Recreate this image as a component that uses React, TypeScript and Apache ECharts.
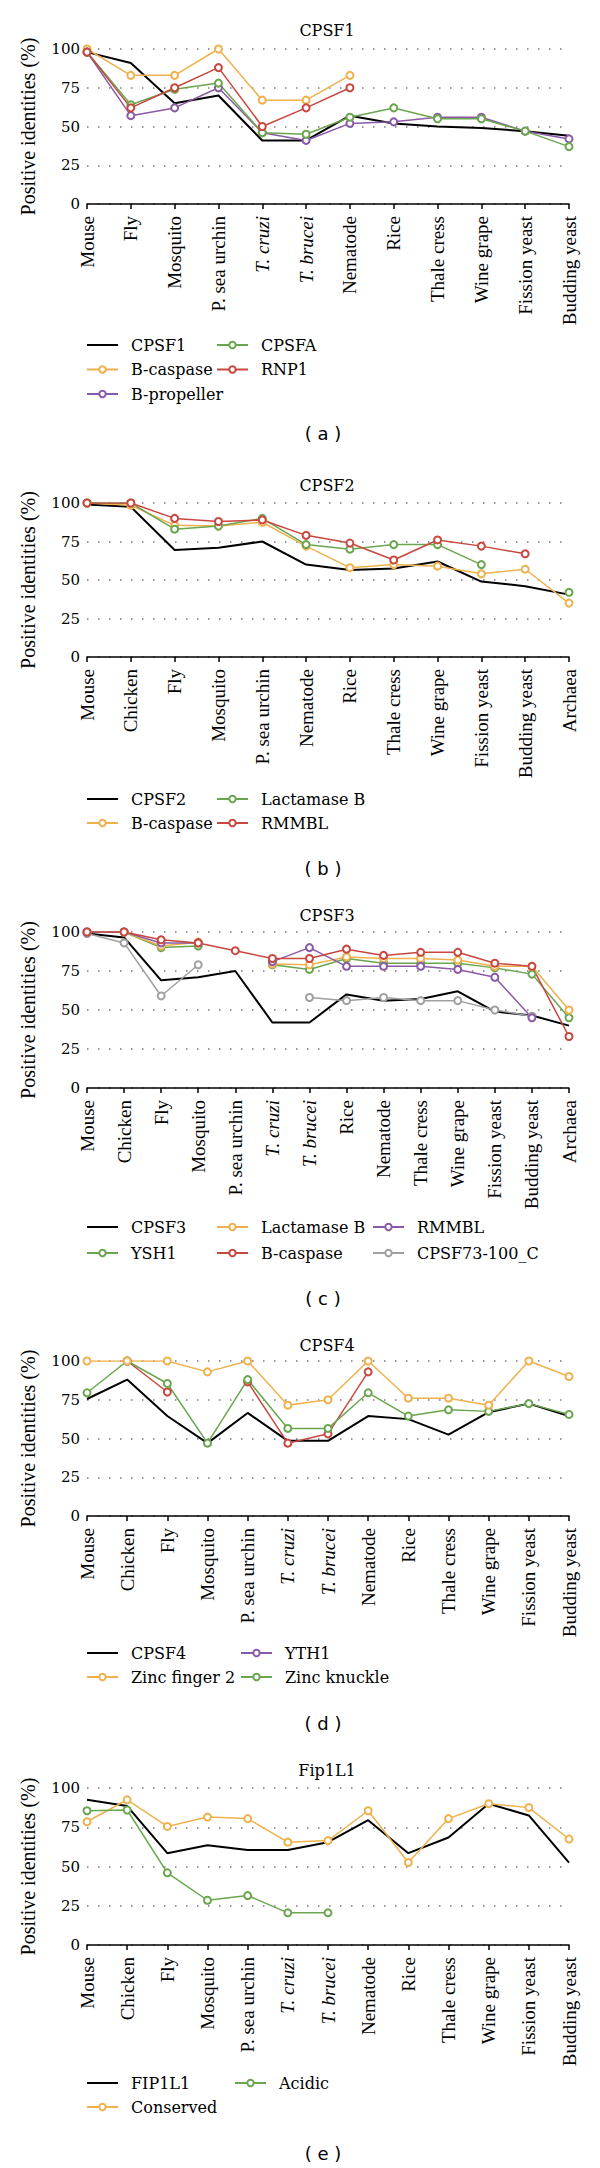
import React, { useEffect, useRef } from "react";
import * as echarts from "echarts";

const ROT_FONT = "Liberation Serif, Times New Roman, serif";
const HOR_FONT = "DejaVu Serif, serif";
const BLACK = "#000000";
const ORANGE = "#EFB14E";
const GREEN = "#6AA64E";
const RED = "#C8473F";
const PURPLE = "#8A5AA6";
const GRAY = "#A0A0A0";

// categories
const catsA = ["Mouse", "Fly", "Mosquito", "P. sea urchin", "T. cruzi", "T. brucei", "Nematode", "Rice", "Thale cress", "Wine grape", "Fission yeast", "Budding yeast"];
const catsB = ["Mouse", "Chicken", "Fly", "Mosquito", "P. sea urchin", "Nematode", "Rice", "Thale cress", "Wine grape", "Fission yeast", "Budding yeast", "Archaea"];
const catsC = ["Mouse", "Chicken", "Fly", "Mosquito", "P. sea urchin", "T. cruzi", "T. brucei", "Rice", "Nematode", "Thale cress", "Wine grape", "Fission yeast", "Budding yeast", "Archaea"];
const catsDE = ["Mouse", "Chicken", "Fly", "Mosquito", "P. sea urchin", "T. cruzi", "T. brucei", "Nematode", "Rice", "Thale cress", "Wine grape", "Fission yeast", "Budding yeast"];

const yTicks = [0, 25, 50, 75, 100];

// (a) CPSF1
const aCpsf1 = [98, 91, 65, 70, 41, 41, 57, 52, 50, 49, 47, 44];
const aBcaspase = [100, 83, 83, 100, 67, 67, 83, null, null, null, null, null];
const aBpropeller = [98, 57, 62, 75, 46, 41, 52, 53, 56, 56, 47, 42];
const aCpsfa = [98, 64, 74, 78, 46, 45, 56, 62, 55, 55, 47, 37];
const aRnp1 = [98, 62, 75, 88, 50, 62, 75, null, null, null, null, null];

// (b) CPSF2
const bCpsf2 = [99, 97.5, 69.5, 71, 75, 60, 56.5, 57.5, 62, 49, 46, 40.5];
const bBcaspase = [100, 98.5, 85.5, 85, 87.5, 72, 58, 60, 59, 54, 57, 35];
const bLactamase = [100, 100, 83, 85, 90, 73, 70, 73, 73, 60, null, 42];
const bRmmbl = [100, 100, 90, 88, 89, 79, 74, 63, 76, 72, 67, null];

// (c) CPSF3
const cCpsf3 = [99, 96.5, 69, 71, 75, 42, 42, 60, 56, 57, 62, 49, 46.5, 40];
const cYsh1 = [100, 100, 90, 91, null, 79, 76, 83, 80, 80, 80, 77, 73, 45];
const cLactamase = [100, 100, 91, 93.5, null, 79.5, 79, 84, 83, 83, 82, 78, 78, 50];
const cBcaspase = [100, 100, 95, 93, 88, 83, 83, 89, 85, 87, 87, 80, 78, 33];
const cRmmbl = [100, 100, 93, 93, null, 81, 90, 78, 78, 78, 76, 71, 45, null];
const cCpsf73 = [99, 93, 59, 79, null, null, 58, 56, 58, 56, 56, 50, 46, null];

// (d) CPSF4
const dCpsf4 = [75.5, 88, 64.5, 47, 66.5, 48.5, 48.5, 64.5, 62.5, 52.5, 67, 72.5, 64.5];
const dZincFinger = [100, 100, 100, 93, 100, 71.5, 75, 100, 76, 76, 71.5, 100, 90];
const dYth1 = [null, 100, 80, null, 86.5, 47, 53, 93, null, null, null, null, null];
const dZincKnuckle = [79.5, 100, 85.5, 47, 88, 56.5, 56.5, 79.5, 64.5, 68.5, 67.5, 72.5, 65.5];

// (e) Fip1L1
const eFip1l1 = [92.5, 88.5, 58.5, 63.5, 60.5, 60.5, 65.5, 79.5, 58.5, 68.5, 90, 82.5, 52.5];
const eConserved = [78.5, 92.5, 75.5, 81.5, 80.5, 65.5, 66.5, 85.5, 52.5, 80.5, 90, 87.5, 67.5];
const eAcidic = [85.5, 86, 46, 28.5, 31.5, 20.5, 20.5, null, null, null, null, null, null];

type S = { name: string; data: (number | null)[]; color: string; legendColor?: string };
type Panel = {
  key: string;
  title: string;
  cats: string[];
  top: number;
  height: number;
  titleY: number;
  labelY: number;
  legendTop: number;
  legendGap: number;
  series: S[];
  cols: { left: number; names: string[] }[];
};

const panels: Panel[] = [
  {
    key: "a", title: "CPSF1", cats: catsA, top: 49, height: 155, titleY: 30, labelY: 433, legendTop: 336, legendGap: 6.5,
    series: [
      { name: "CPSF1", data: aCpsf1, color: BLACK },
      { name: "B-caspase", data: aBcaspase, color: ORANGE },
      { name: "B-propeller", data: aBpropeller, color: PURPLE },
      { name: "CPSFA", data: aCpsfa, color: GREEN },
      { name: "RNP1", data: aRnp1, color: RED },
    ],
    cols: [
      { left: 86, names: ["CPSF1", "B-caspase", "B-propeller"] },
      { left: 216, names: ["CPSFA", "RNP1"] },
    ],
  },
  {
    key: "b", title: "CPSF2", cats: catsB, top: 503, height: 154, titleY: 485, labelY: 868, legendTop: 790, legendGap: 6,
    series: [
      { name: "CPSF2", data: bCpsf2, color: BLACK },
      { name: "B-caspase", data: bBcaspase, color: ORANGE },
      { name: "Lactamase B", data: bLactamase, color: GREEN },
      { name: "RMMBL", data: bRmmbl, color: RED },
    ],
    cols: [
      { left: 86, names: ["CPSF2", "B-caspase"] },
      { left: 216, names: ["Lactamase B", "RMMBL"] },
    ],
  },
  {
    key: "c", title: "CPSF3", cats: catsC, top: 932, height: 156, titleY: 915, labelY: 1298, legendTop: 1218, legendGap: 8,
    series: [
      { name: "CPSF3", data: cCpsf3, color: BLACK },
      { name: "CPSF73-100_C", data: cCpsf73, color: GRAY },
      { name: "YSH1", data: cYsh1, color: GREEN },
      { name: "Lactamase B", data: cLactamase, color: ORANGE },
      { name: "RMMBL", data: cRmmbl, color: PURPLE },
      { name: "B-caspase", data: cBcaspase, color: RED },
    ],
    cols: [
      { left: 86, names: ["CPSF3", "YSH1"] },
      { left: 216, names: ["Lactamase B", "B-caspase"] },
      { left: 372, names: ["RMMBL", "CPSF73-100_C"] },
    ],
  },
  {
    key: "d", title: "CPSF4", cats: catsDE, top: 1361, height: 155, titleY: 1345, labelY: 1723, legendTop: 1644, legendGap: 6,
    series: [
      { name: "CPSF4", data: dCpsf4, color: BLACK },
      { name: "YTH1", data: dYth1, color: RED, legendColor: PURPLE },
      { name: "Zinc knuckle", data: dZincKnuckle, color: GREEN },
      { name: "Zinc finger 2", data: dZincFinger, color: ORANGE },
    ],
    cols: [
      { left: 86, names: ["CPSF4", "Zinc finger 2"] },
      { left: 240, names: ["YTH1", "Zinc knuckle"] },
    ],
  },
  {
    key: "e", title: "Fip1L1", cats: catsDE, top: 1788, height: 157, titleY: 1770, labelY: 2153, legendTop: 2074, legendGap: 6,
    series: [
      { name: "FIP1L1", data: eFip1l1, color: BLACK },
      { name: "Conserved", data: eConserved, color: ORANGE },
      { name: "Acidic", data: eAcidic, color: GREEN },
    ],
    cols: [
      { left: 86, names: ["FIP1L1", "Conserved"] },
      { left: 234, names: ["Acidic"] },
    ],
  },
];

function buildOption() {
  const grid: any[] = [];
  const xAxis: any[] = [];
  const yAxis: any[] = [];
  const series: any[] = [];
  const legend: any[] = [];
  const graphic: any[] = [];

  panels.forEach((p, i) => {
    grid.push({ left: 87, right: 31, top: p.top, height: p.height, containLabel: false });
    xAxis.push({
      gridIndex: i,
      type: "category",
      data: p.cats,
      boundaryGap: false,
      axisLine: { show: true, lineStyle: { color: "#000", width: 1.5 } },
      axisTick: { show: true, length: 5, lineStyle: { color: "#000", width: 1.5 } },
      splitLine: { show: false },
      axisLabel: {
        interval: 0,
        rotate: 90,
        margin: 12,
        color: "#000",
        fontFamily: ROT_FONT,
        fontSize: 19,
        formatter: (v: string) => (v.startsWith("T. ") ? `{i|${v}}` : v),
        rich: { i: { fontStyle: "italic", fontFamily: ROT_FONT, fontSize: 19, color: "#000" } },
      },
    });
    yAxis.push({
      gridIndex: i,
      type: "value",
      min: yTicks[0],
      max: yTicks[yTicks.length - 1],
      interval: 25,
      axisLine: { show: false },
      axisTick: { show: false },
      axisLabel: { margin: 7, color: "#000", fontFamily: HOR_FONT, fontSize: 15 },
      splitLine: { show: true, lineStyle: { color: "#7a7a7a", width: 1.5, type: [1.5, 9.5] } },
      name: "Positive identities (%)",
      nameLocation: "middle",
      nameGap: 49,
      nameTextStyle: { color: "#000", fontFamily: ROT_FONT, fontSize: 20 },
    });
    p.series.forEach((s) => {
      const isMain = s.color === BLACK;
      series.push({
        type: "line",
        name: `${s.name}#${p.key}`,
        xAxisIndex: i,
        yAxisIndex: i,
        data: s.data,
        connectNulls: false,
        showAllSymbol: true,
        symbol: isMain ? "none" : "emptyCircle",
        symbolSize: 7,
        itemStyle: { color: s.color, borderWidth: 1.5 },
        lineStyle: { color: s.color, width: isMain ? 2 : 1.5 },
        emphasis: { disabled: true },
      });
    });
    p.cols.forEach((c) => {
      legend.push({
        orient: "vertical",
        left: c.left,
        top: p.legendTop,
        itemWidth: 31,
        itemHeight: 8,
        itemGap: p.legendGap,
        padding: 0,
        selectedMode: false,
        formatter: (n: string) => n.split("#")[0],
        textStyle: { color: "#000", fontFamily: HOR_FONT, fontSize: 16, lineHeight: 18, padding: [0, 0, 0, 8] },
        data: c.names.map((n) => {
          const s = p.series.find((x) => x.name === n)!;
          const item: any = { name: `${n}#${p.key}` };
          if (s.color === BLACK) {
            item.icon = "line";
            item.itemStyle = { color: "#000", borderColor: "#000", borderWidth: 2 };
          }
          if (s.legendColor) {
            item.itemStyle = { color: s.legendColor, borderColor: s.legendColor };
            item.lineStyle = { color: s.legendColor };
          }
          return item;
        }),
      });
    });
    graphic.push({
      type: "text",
      x: 327,
      y: p.titleY,
      style: { text: p.title, font: `16px ${HOR_FONT}`, fill: "#000", align: "center", verticalAlign: "middle" },
    });
    graphic.push({
      type: "text",
      x: 323,
      y: p.labelY,
      style: { text: `( ${p.key} )`, font: "18px DejaVu Sans, sans-serif", fill: "#000", align: "center", verticalAlign: "middle" },
    });
  });

  return {
    animation: false,
    backgroundColor: "#ffffff",
    textStyle: { fontFamily: HOR_FONT },
    grid,
    xAxis,
    yAxis,
    series,
    legend,
    graphic,
  };
}

export default function App() {
  const ref = useRef<HTMLDivElement>(null);
  useEffect(() => {
    document.body.style.margin = "0";
    if (!ref.current) return;
    const chart = echarts.init(ref.current, undefined, { renderer: "svg" });
    chart.setOption(buildOption() as any);
    return () => chart.dispose();
  }, []);
  return <div ref={ref} style={{ width: 600, height: 2168 }} />;
}
